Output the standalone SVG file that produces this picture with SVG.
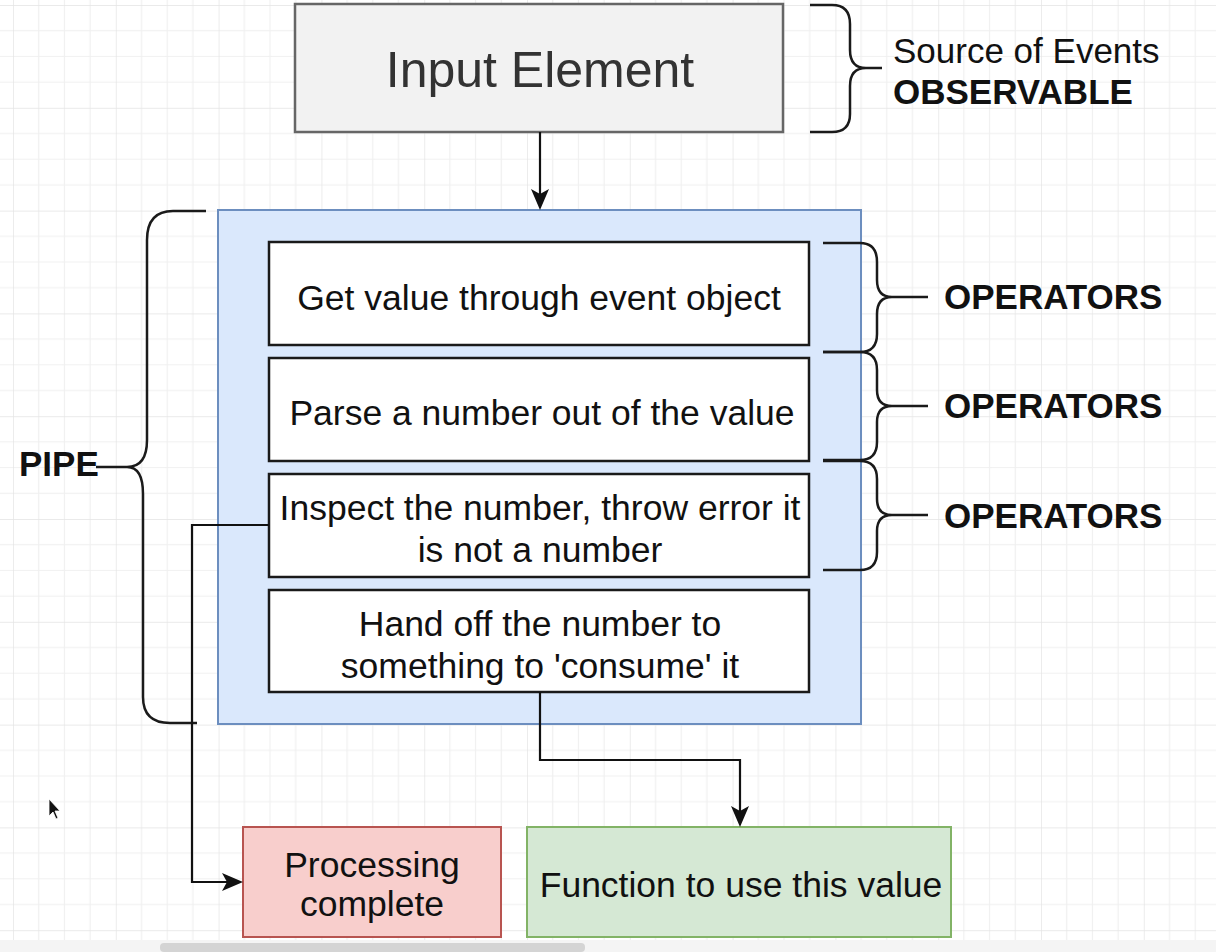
<svg xmlns="http://www.w3.org/2000/svg" width="1216" height="952" viewBox="0 0 1216 952">
<style>
  .t { font-family: "Liberation Sans", Arial, sans-serif; font-size: 35.5px; fill: #111; text-anchor: middle; }
  .b { font-family: "Liberation Sans", Arial, sans-serif; font-size: 35px; font-weight: bold; fill: #111; }
  .n { font-family: "Liberation Sans", Arial, sans-serif; font-size: 35px; fill: #111; }
  .box { fill: #ffffff; stroke: #1a1a1a; stroke-width: 2.5; }
  .brace { fill: none; stroke: #1a1a1a; stroke-width: 2.5; stroke-linejoin: round; }
  .conn { fill: none; stroke: #111; stroke-width: 2.2; }
  .head { fill: #111; }
</style>
<defs>
  <pattern id="grid" patternUnits="userSpaceOnUse" x="13" y="5" width="102.8" height="102.8">
    <path d="M25.7,0 V102.8 M51.4,0 V102.8 M77.1,0 V102.8 M0,25.7 H102.8 M0,51.4 H102.8 M0,77.1 H102.8" stroke="#f0f0f0" stroke-width="1.2" fill="none"/>
    <path d="M0,0 V102.8 M0,0 H102.8" stroke="#e4e4e4" stroke-width="1.4" fill="none"/>
  </pattern>
</defs>
<rect width="1216" height="952" fill="#ffffff"/>
<rect width="1216" height="940" fill="url(#grid)"/>
<rect x="0" y="940" width="1216" height="12" fill="#f4f4f4"/>
<rect x="160" y="943" width="425" height="9" rx="4" fill="#d4d4d4"/>

<g id="input-element">
  <rect x="295" y="4" width="488" height="128" fill="#f2f2f2" stroke="#666666" stroke-width="2.5"/>
  <text x="540" y="87" class="t" style="font-size:50px; fill:#333333">Input Element</text>
</g>

<g id="source-brace">
  <path class="brace" d="M810,5 H832 Q850,5 850,24 V50 Q850,68 866,68 H882 M866,68 Q850,68 850,86 V114 Q850,132 832,132 H810"/>
  <text x="893" y="63" class="n">Source of Events</text>
  <text x="893" y="104" class="b">OBSERVABLE</text>
</g>

<g id="pipe-container">
  <rect x="218" y="210" width="643" height="514" fill="#dae8fc" stroke="#6c8ebf" stroke-width="2"/>
</g>

<g id="op-get-value">
  <rect class="box" x="269" y="242" width="540" height="103"/>
  <text x="539" y="310" class="t">Get value through event object</text>
</g>
<g id="op-parse">
  <rect class="box" x="269" y="358" width="540" height="103"/>
  <text x="542" y="425" class="t">Parse a number out of the value</text>
</g>
<g id="op-inspect">
  <rect class="box" x="269" y="474" width="540" height="103"/>
  <text x="540" y="520" class="t">Inspect the number, throw error it</text>
  <text x="540" y="562" class="t">is not a number</text>
</g>
<g id="op-handoff">
  <rect class="box" x="269" y="590" width="540" height="102"/>
  <text x="540" y="636" class="t">Hand off the number to</text>
  <text x="540" y="678" class="t">something to 'consume' it</text>
</g>

<g id="operators-braces">
  <path class="brace" d="M823,243 H860 Q877,243 877,262 V280 Q877,297 892,297 H928 M892,297 Q877,297 877,314 V334 Q877,352 860,352 H823"/>
  <path class="brace" d="M823,352 H860 Q877,352 877,370 V390 Q877,406 892,406 H928 M892,406 Q877,406 877,422 V442 Q877,460 860,460 H823"/>
  <path class="brace" d="M823,461 H860 Q877,461 877,479 V499 Q877,515 892,515 H928 M892,515 Q877,515 877,531 V552 Q877,570 860,570 H823"/>
  <text x="944" y="309" class="b">OPERATORS</text>
  <text x="944" y="418" class="b">OPERATORS</text>
  <text x="944" y="528" class="b">OPERATORS</text>
</g>

<g id="pipe-brace">
  <path class="brace" d="M206,211 H173 Q147,211 147,240 V440 Q147,467 127,467 H96 M127,467 Q143,467 143,494 V697 Q143,723 170,723 H197"/>
  <text x="19" y="476" class="b">PIPE</text>
</g>

<g id="processing-complete">
  <rect x="243" y="827" width="258" height="110" fill="#f8cecc" stroke="#b85450" stroke-width="2"/>
  <text x="372" y="877" class="t">Processing</text>
  <text x="372" y="916" class="t">complete</text>
</g>
<g id="function-use">
  <rect x="527" y="827" width="424" height="110" fill="#d5e8d4" stroke="#82b366" stroke-width="2"/>
  <text x="741" y="897" class="t">Function to use this value</text>
</g>

<g id="connectors">
  <path class="conn" d="M540,132 V196"/>
  <path class="head" d="M540,210 L531,189 L540,194 L549,189 Z"/>
  <path class="conn" d="M269,525 H192 V882 H230"/>
  <path class="head" d="M243,882 L222,873 L227,882 L222,891 Z"/>
  <path class="conn" d="M540,692 V760 H740 V813"/>
  <path class="head" d="M740,827 L731,806 L740,811 L749,806 Z"/>
</g>

<g id="cursor">
  <path d="M49,799 L49,816 L53,812 L56,819 L58,818 L55,811 L60,811 Z" fill="#111" stroke="#fff" stroke-width="0.8"/>
</g>
</svg>
